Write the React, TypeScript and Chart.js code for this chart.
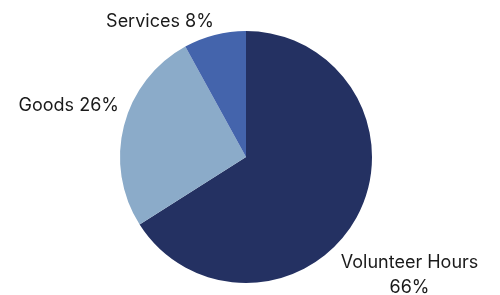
import React, { useEffect, useRef } from "react";
import { Chart, registerables } from "chart.js";

Chart.register(...registerables);

const categories = ["Volunteer Hours", "Goods", "Services"];
const values = [66, 26, 8];
const labelLines = [["Volunteer Hours", "66%"], ["Goods 26%"], ["Services 8%"]];
const colors = ["#243162", "#8babc9", "#4464ac"];

// label anchor offsets in units of pie radius, plus alignment
const labelAnchors = [
  { dx: 1.298, dy: 0.84, align: "center" },
  { dx: -1.008, dy: -0.41, align: "right" },
  { dx: -0.683, dy: -1.075, align: "center" },
];

const labelPlugin = {
  id: "pieLabels",
  afterDatasetsDraw(chart: any) {
    const ctx = chart.ctx;
    const meta = chart.getDatasetMeta(0);
    ctx.save();
    ctx.font = "18px Inter";
    ctx.fillStyle = "#1a1a1a";
    ctx.textBaseline = "middle";
    meta.data.forEach((arc: any, i: number) => {
      const a = labelAnchors[i];
      const lines = labelLines[i];
      const r = arc.outerRadius;
      const x = arc.x + a.dx * r;
      const y = arc.y + a.dy * r;
      ctx.textAlign = a.align;
      const lh = 25;
      lines.forEach((t: string, j: number) => {
        ctx.fillText(t, x, y + j * lh);
      });
    });
    ctx.restore();
  },
};

export default function App() {
  const ref = useRef<HTMLCanvasElement>(null);
  useEffect(() => {
    document.body.style.margin = "0";
    const chart = new Chart(ref.current!, {
      type: "pie",
      data: {
        labels: categories,
        datasets: [
          {
            data: values,
            backgroundColor: colors,
            borderWidth: 0,
          },
        ],
      },
      options: {
        animation: false,
        responsive: false,
        layout: { padding: { left: 120, right: 128, top: 31, bottom: 12 } },
        plugins: {
          legend: { display: false },
          tooltip: { enabled: false },
        },
      },
      plugins: [labelPlugin],
    });
    return () => chart.destroy();
  }, []);
  return (
    <div style={{ width: 500, height: 295, background: "#fff" }}>
      <canvas ref={ref} width={500} height={295} />
    </div>
  );
}
